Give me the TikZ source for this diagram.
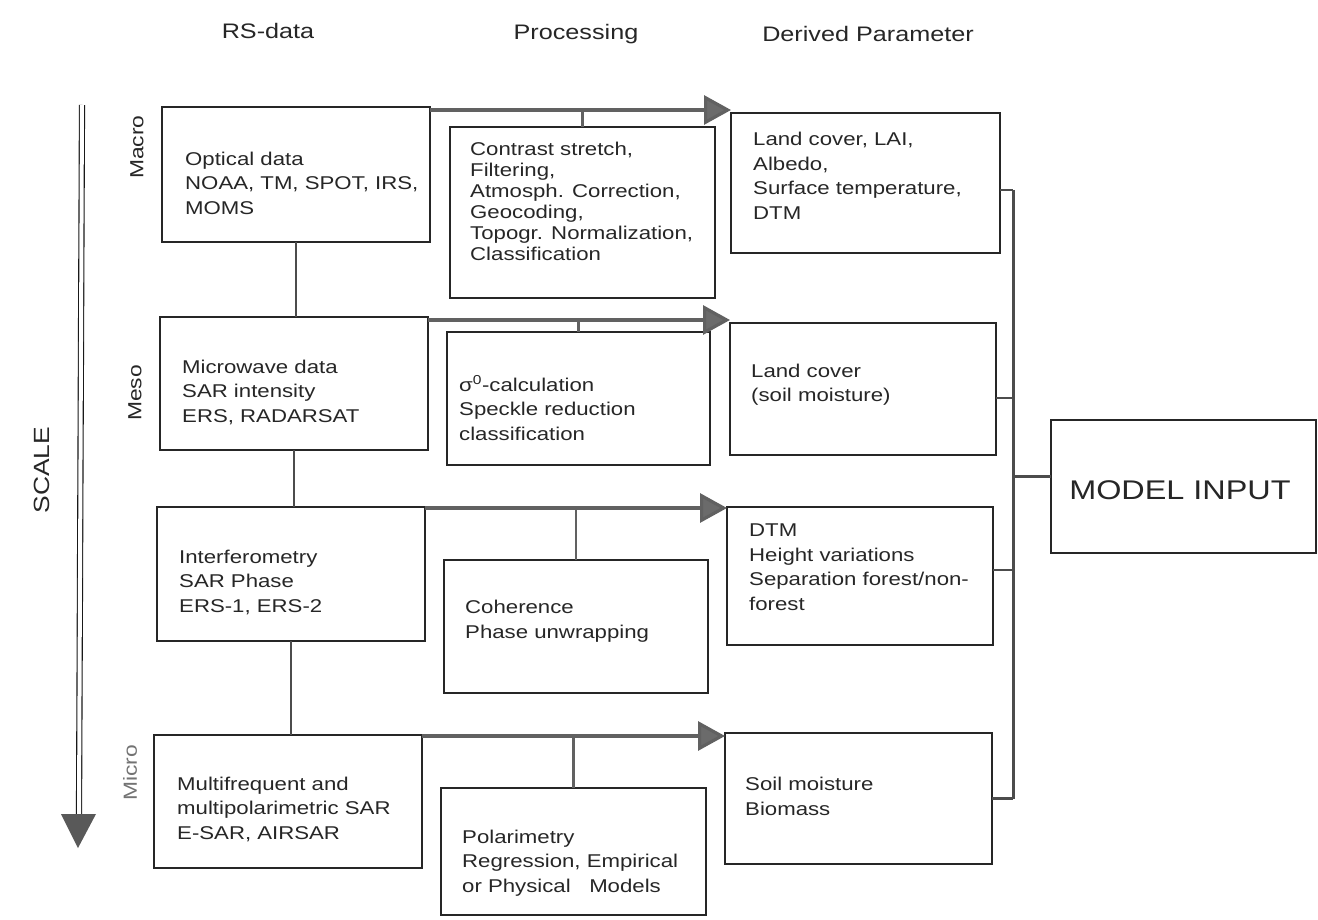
\documentclass[tikz,border=0pt]{standalone}
\usepackage{fontspec}
\setmainfont{Liberation Sans}[FakeStretch=1.2]
\usetikzlibrary{arrows.meta,calc}
\begin{document}
\begin{tikzpicture}[x=1pt,y=-1pt,
  box/.style={draw=black!85,line width=1.3pt,inner sep=0pt,outer sep=0pt},
  txt/.style={anchor=west,align=left,inner sep=0pt,text=black!85,font=\fontsize{18.5}{24.5}\selectfont},
  txtp/.style={txt,font=\fontsize{18.5}{21}\selectfont},
  hdr/.style={inner sep=0pt,text=black!85,font=\fontsize{21}{26}\selectfont},
  lvl/.style={inner sep=0pt,rotate=90,text=black!85,font=\fontsize{19}{22}\selectfont},
  conn/.style={draw=black!62,line width=3.2pt},
  flow/.style={conn,-{Triangle[length=27pt,width=29pt,fill=black!58]}},
  link/.style={draw=black!70,line width=2.6pt}
]
\useasboundingbox (0,0) rectangle (1318,920);

% headers
\node[hdr] (h1) at (268,31) {RS-data};
\node[hdr] (h2) at (576,34) {Processing};
\node[hdr] (h3) at (868,34) {Derived Parameter};

% scale arrow
\coordinate (s1) at (82,105);
\coordinate (s2) at (79,814);
\draw[black!90,line width=1.1pt,double=white,double distance=4pt] (s1) -- (s2);
\fill[black!65] ($(s2)+(-18,0)$) -- ($(s2)+(17,0)$) -- ($(s2)+(-1,34)$) -- cycle;
\node[lvl,font=\fontsize{22}{26}\selectfont] (scale) at (42,470) {SCALE};

% level labels
\node[lvl] (lmacro) at (137,147) {Macro};
\node[lvl] (lmeso) at (135,393) {Meso};
\node[lvl,text=black!55] (lmicro) at (130,773) {Micro};

% RS-data boxes
\node[box,minimum width=268pt,minimum height=135pt] (opt) at (296,174.5) {};
\node[box,minimum width=268pt,minimum height=133pt] (mw) at (294,383.5) {};
\node[box,minimum width=268pt,minimum height=134pt] (inf) at (291,574) {};
\node[box,minimum width=268pt,minimum height=133pt] (mul) at (288,801.5) {};
\node[txt] (optT) at (185,183) {Optical data\\NOAA, TM, SPOT, IRS,\\MOMS};
\node[txt] (mwT) at (182,392) {Microwave data\\SAR intensity\\ERS, RADARSAT};
\node[txt] (infT) at (179,582) {Interferometry\\SAR Phase\\ERS-1, ERS-2};
\node[txt] (mulT) at (177,809) {Multifrequent and\\multipolarimetric SAR\\E-SAR, AIRSAR};

% processing boxes
\node[box,minimum width=265pt,minimum height=171pt] (p1) at (582.5,212.5) {};
\node[box,minimum width=263pt,minimum height=133pt] (p2) at (578.5,398.5) {};
\node[box,minimum width=264pt,minimum height=133pt] (p3) at (576,626.5) {};
\node[box,minimum width=265pt,minimum height=127pt] (p4) at (573.5,851.5) {};
\node[txtp] (p1T) at (470,201.5) {Contrast stretch,\\Filtering,\\Atmosph. Correction,\\Geocoding,\\Topogr. Normalization,\\Classification};
\node[txt] (p2T) at (459,408) {σ\textsuperscript{0}-calculation\\Speckle reduction\\classification};
\node[txt] (p3T) at (465,621) {Coherence\\Phase unwrapping};
\node[txt] (p4T) at (462,863) {Polarimetry\\Regression, Empirical\\or Physical\ \ \ Models};

% derived boxes
\node[box,minimum width=269pt,minimum height=140pt] (d1) at (865.5,183) {};
\node[box,minimum width=266pt,minimum height=132pt] (d2) at (863,389) {};
\node[box,minimum width=266pt,minimum height=138pt] (d3) at (860,576) {};
\node[box,minimum width=267pt,minimum height=131pt] (d4) at (858.5,798.5) {};
\node[txt] (d1T) at (753,176) {Land cover, LAI,\\Albedo,\\Surface temperature,\\DTM};
\node[txt] (d2T) at (751,384.5) {Land cover\\(soil moisture)};
\node[txt] (d3T) at (749,567) {DTM\\Height variations\\Separation forest/non-\\forest};
\node[txt] (d4T) at (745,796.5) {Soil moisture\\Biomass};

% model input
\node[box,minimum width=265pt,minimum height=133pt] (mi) at (1183.5,486.5) {};
\node[inner sep=0pt,text=black!85,font=\fontsize{27}{30}\selectfont] (miT) at (1180,490) {MODEL INPUT};

% vertical links between RS boxes
\draw[link] (opt.south) -- (opt.south |- mw.north);
\draw[link] (mw.south) -- (mw.south |- inf.north);
\draw[link] (inf.south) -- (inf.south |- mul.north);

% flow arrows
\coordinate (a1) at ($(opt.north east)+(0,3)$);
\coordinate (a2) at ($(mw.north east)+(0,3)$);
\coordinate (a3) at ($(inf.north east)+(0,1)$);
\coordinate (a4) at ($(mul.north east)+(0,1)$);
\draw[flow] (a1) -- (a1 -| d1.west);
\draw[flow] (a2) -- (a2 -| d2.west);
\draw[flow] (a3) -- (a3 -| d3.west);
\draw[flow] (a4) -- (a4 -| d4.west);
\draw[conn,line width=2.8pt] (p1.north) -- (p1.north |- a1);
\draw[conn,line width=2.8pt] (p2.north) -- (p2.north |- a2);
\draw[conn,line width=2.8pt] (p3.north) -- (p3.north |- a3);
\draw[conn,line width=2.8pt] (p4.north) -- (p4.north |- a4);

% bus to model input
\coordinate (b1) at ($(d1.east)+(0,7)$);
\coordinate (b2) at ($(d2.east)+(0,9)$);
\coordinate (b3) at ($(d3.east)+(0,-6)$);
\coordinate (b4) at ($(d4.east)+(0,0)$);
\coordinate (bt) at (1013,0);
\draw[link,line width=3pt] (b1 -| bt) -- (b4 -| bt);
\draw[link,line width=2.4pt] (b1) -- (b1 -| bt);
\draw[link,line width=2.4pt] (b2) -- (b2 -| bt);
\draw[link,line width=2.4pt] (b3) -- (b3 -| bt);
\draw[link,line width=2.4pt] (b4) -- (b4 -| bt);
\coordinate (bm) at ($(mi.west)+(0,-10)$);
\draw[link,line width=2.4pt] (bm -| bt) -- (bm);
\end{tikzpicture}
\end{document}
